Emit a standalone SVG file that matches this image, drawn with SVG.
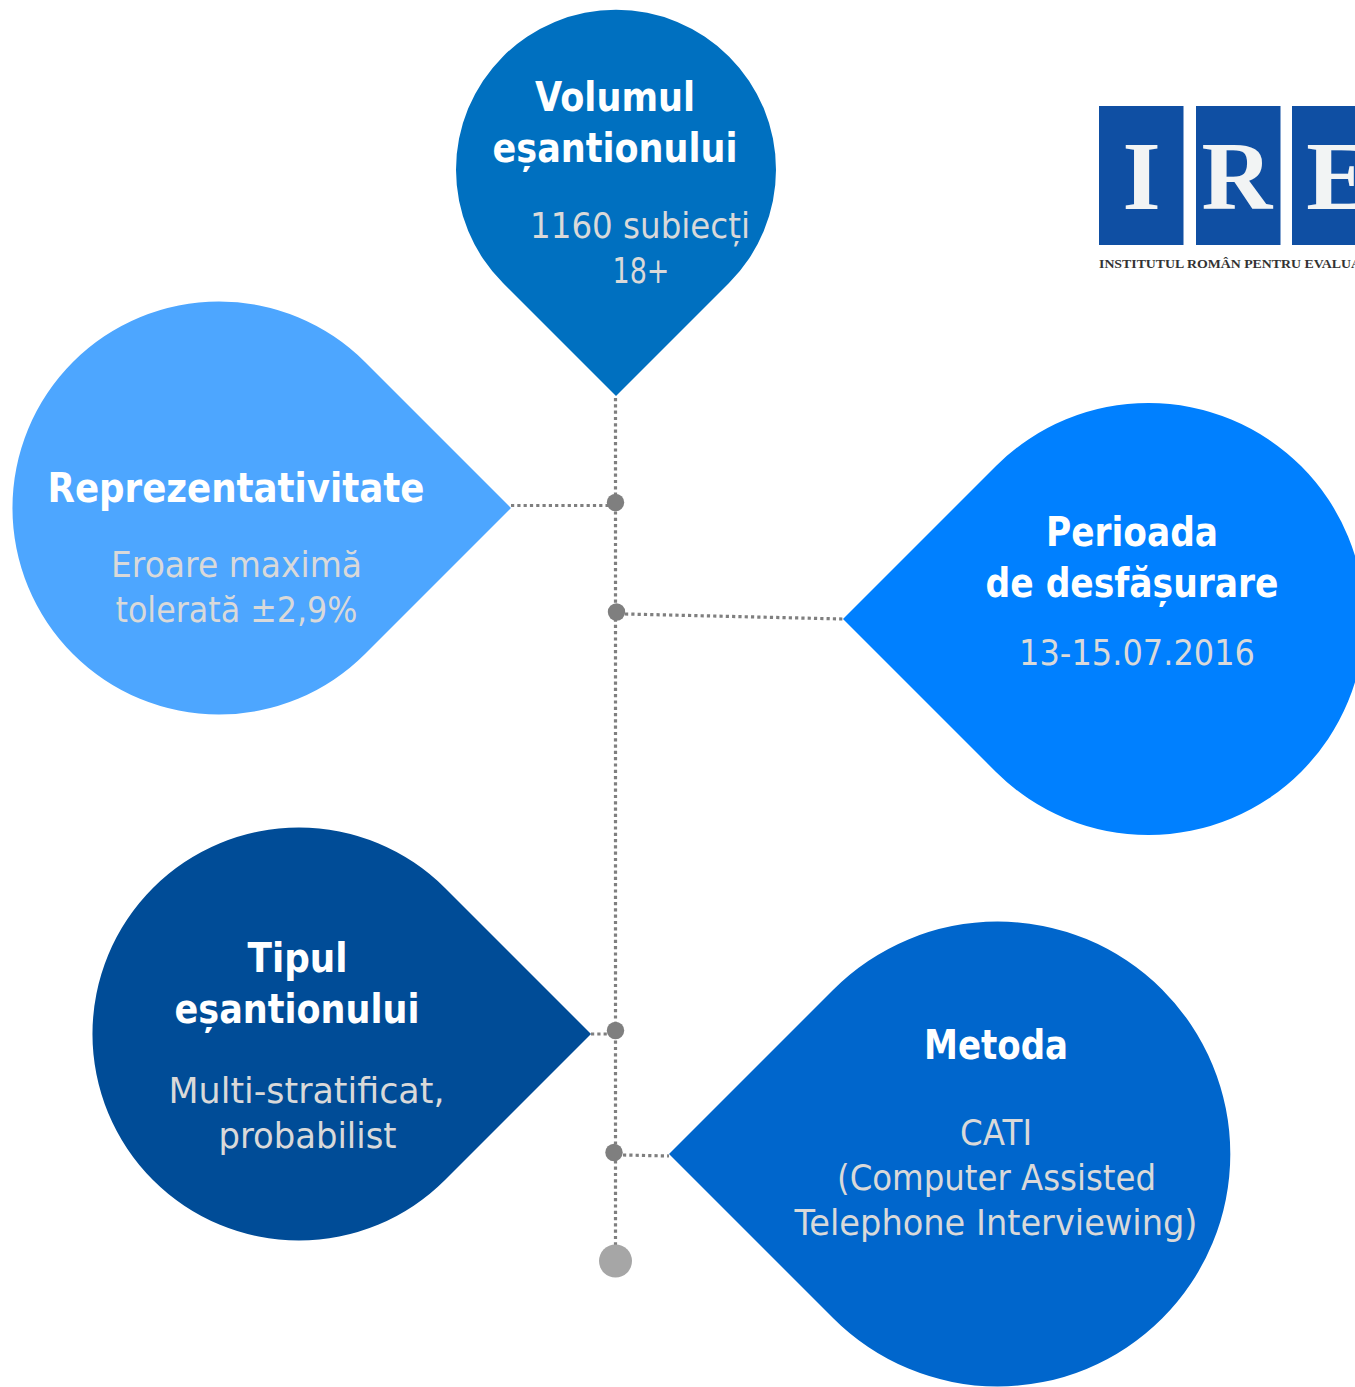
<svg xmlns="http://www.w3.org/2000/svg" width="1355" height="1387" viewBox="0 0 1355 1387">
<style>
text{font-family:"DejaVu Sans","Noto Sans",sans-serif;text-anchor:middle}
.t{font-size:40px;font-weight:700;fill:#fff}
.s{font-size:36px;fill:#d9d9d9}
.c{fill:none;stroke:#7f7f7f;stroke-width:3.2;stroke-dasharray:3.2 3.1}
.d{fill:#7f7f7f}
.l{font-family:"Liberation Serif",serif;font-weight:700;font-size:98px;fill:#f2f4f4}
</style>
<rect width="1355" height="1387" fill="#fff"/>
<g id="connectors">
<path class="c" d="M615.500 398V1245"/>
<path class="c" d="M511 505.500H608"/>
<path class="c" d="M625 614L843 619"/>
<path class="c" d="M591 1034H607"/>
<path class="c" d="M623 1155L669 1156"/>
</g>
<g id="dots">
<circle class="d" cx="615.500" cy="502.500" r="8.700"/>
<circle class="d" cx="616.500" cy="612" r="8.700"/>
<circle class="d" cx="615.500" cy="1030.500" r="8.700"/>
<circle class="d" cx="614" cy="1152.500" r="8.700"/>
<circle cx="615.500" cy="1261" r="16.500" fill="#a6a6a6"/>
</g>
<g id="volumul">
<path fill="#0070c0" d="M616 396L503 283A160 160 0 1 1 729 283Z"/>
<text class="t" x="615" y="110.500" textLength="160" lengthAdjust="spacingAndGlyphs">Volumul</text>
<text class="t" x="615" y="161.500" textLength="245" lengthAdjust="spacingAndGlyphs">eșantionului</text>
<text class="s" x="640" y="238" textLength="220" lengthAdjust="spacingAndGlyphs">1160 subiecți</text>
<text class="s" x="641" y="282.500" textLength="57" lengthAdjust="spacingAndGlyphs">18+</text>
</g>
<g id="reprezentativitate">
<path fill="#4da6ff" d="M511 508L365 654A206.500 206.500 0 1 1 365 362Z"/>
<text class="t" x="236" y="501.500" textLength="377" lengthAdjust="spacingAndGlyphs">Reprezentativitate</text>
<text class="s" x="236.500" y="577" textLength="251" lengthAdjust="spacingAndGlyphs">Eroare maximă</text>
<text class="s" x="236.500" y="621.500" textLength="242" lengthAdjust="spacingAndGlyphs">tolerată ±2,9%</text>
</g>
<g id="perioada">
<path fill="#0080ff" d="M843 619L996 466A216 216 0 1 1 996 772Z"/>
<text class="t" x="1132" y="545.500" textLength="172" lengthAdjust="spacingAndGlyphs">Perioada</text>
<text class="t" x="1132" y="596.500" textLength="293" lengthAdjust="spacingAndGlyphs">de desfășurare</text>
<text class="s" x="1137" y="665" textLength="236" lengthAdjust="spacingAndGlyphs">13-15.07.2016</text>
</g>
<g id="tipul">
<path fill="#004c97" d="M591 1034L445 1180A206.500 206.500 0 1 1 445 888Z"/>
<text class="t" x="297.500" y="971.500" textLength="100" lengthAdjust="spacingAndGlyphs">Tipul</text>
<text class="t" x="297" y="1022.500" textLength="245" lengthAdjust="spacingAndGlyphs">eșantionului</text>
<text class="s" x="306.500" y="1103" textLength="276" lengthAdjust="spacingAndGlyphs">Multi-stratificat,</text>
<text class="s" x="307.500" y="1148" textLength="178" lengthAdjust="spacingAndGlyphs">probabilist</text>
</g>
<g id="metoda">
<path fill="#0066cc" d="M669 1154L833 990A232.500 232.500 0 1 1 833 1318Z"/>
<text class="t" x="996" y="1058.500" textLength="144" lengthAdjust="spacingAndGlyphs">Metoda</text>
<text class="s" x="996" y="1145" textLength="72" lengthAdjust="spacingAndGlyphs">CATI</text>
<text class="s" x="996.500" y="1190" textLength="319" lengthAdjust="spacingAndGlyphs">(Computer Assisted</text>
<text class="s" x="996" y="1235" textLength="403" lengthAdjust="spacingAndGlyphs">Telephone Interviewing)</text>
</g>
<g id="logo">
<rect x="1099" y="106" width="84.500" height="139" fill="#0f4fa3"/>
<rect x="1196" y="106" width="84.500" height="139" fill="#0f4fa3"/>
<rect x="1292" y="106" width="84.500" height="139" fill="#0f4fa3"/>
<text class="l" x="1141.500" y="208.500">I</text>
<text class="l" x="1237" y="208.500">R</text>
<text class="l" x="1339" y="208.500">E</text>
<text x="1099" y="268" style="font-family:'Liberation Serif',serif;font-weight:700;font-size:13px;fill:#333;text-anchor:start" textLength="262" lengthAdjust="spacingAndGlyphs">INSTITUTUL ROMÂN PENTRU EVALUA</text>
</g>
</svg>
